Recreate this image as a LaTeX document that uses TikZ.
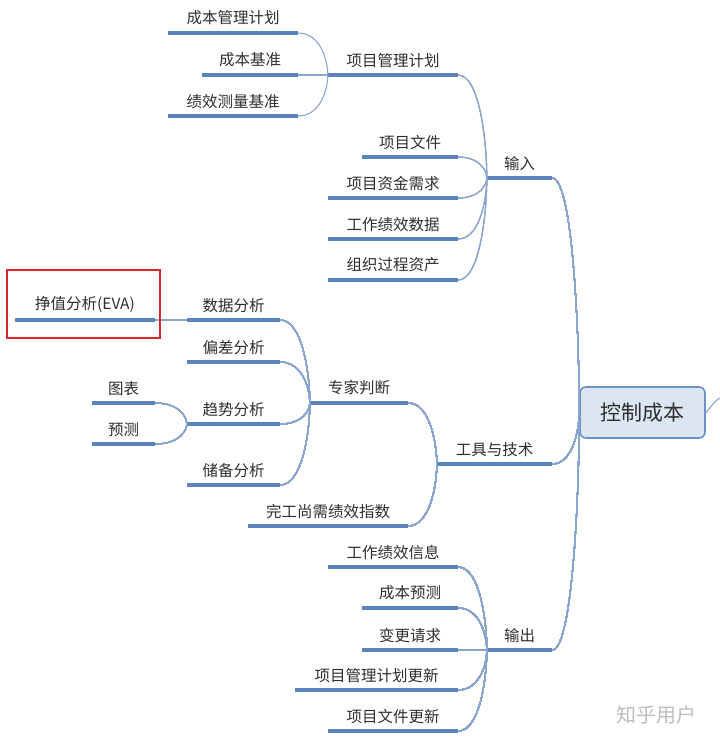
\documentclass[tikz,border=0pt]{standalone}
\usepackage{fontspec}
\setmainfont{Noto Sans CJK SC}
\usepackage{tikz}
\usetikzlibrary{calc}
\definecolor{barblue}{HTML}{5B84BF}
\definecolor{linkblue}{HTML}{8AA6CF}
\definecolor{rootfill}{HTML}{DCE6F2}
\definecolor{rootedge}{HTML}{6C91C8}
\definecolor{textgray}{HTML}{2E2E2E}
\definecolor{markred}{HTML}{D9282D}
\definecolor{markgray}{HTML}{BDBDBD}

% curved twig from a child bar end to its parent fork
\newcommand{\twig}[2]{\draw[link] (#1) .. controls ($(#1)!0.75!(#2 |- #1)$) and ($(#2)!0.35!(#2 |- #1)$) .. (#2);}

\begin{document}
\begin{tikzpicture}[
    x=1pt, y=-1pt,
    topic/.style={anchor=south, minimum width=#1, inner xsep=0pt, inner ysep=7.5pt, font=\fontsize{15.5}{15.5}\selectfont, text=textgray},
    bar/.style={line width=3.6pt, barblue},
    link/.style={line width=1.1pt, linkblue},
    rootbox/.style={draw=rootedge, line width=1.6pt, rounded corners=6pt, fill=rootfill, minimum width=125pt, minimum height=51pt, font=\fontsize{21}{21}\selectfont, text=textgray},
    hilite/.style={draw=markred, line width=1.4pt},
    watermark/.style={font=\fontsize{20}{20}\selectfont, text=markgray},
]
    \useasboundingbox (0,0) rectangle (720,739);

    % Root
    \node[rootbox] (root) at (642.5,412.5) {控制成本};
    \coordinate (offpage) at (722,397);

    % Inputs
    \node[topic=130] (cbgl) at (233,33) {成本管理计划};
    \node[topic=96] (cbjz) at (250,75) {成本基准};
    \node[topic=130] (jxcl) at (233,116) {绩效测量基准};
    \node[topic=130] (plan) at (393,75) {项目管理计划};
    \node[topic=96] (docs) at (410,157) {项目文件};
    \node[topic=130] (fund) at (393,198) {项目资金需求};
    \node[topic=130] (wpd) at (393,239) {工作绩效数据};
    \node[topic=130] (opa) at (393,280) {组织过程资产};
    \node[topic=65] (input) at (519.5,178) {输入};

    % Tools and techniques
    \node[topic=140] (eva) at (85,320) {挣值分析(EVA)};
    \node[topic=63] (chart) at (123.5,403) {图表};
    \node[topic=63] (fcst) at (123.5,444) {预测};
    \node[topic=93] (data) at (233.5,320) {数据分析};
    \node[topic=93] (var) at (233.5,362) {偏差分析};
    \node[topic=93] (trend) at (233.5,424) {趋势分析};
    \node[topic=93] (resv) at (233.5,485) {储备分析};
    \node[topic=98] (expert) at (359,403) {专家判断};
    \node[topic=160] (tcpi) at (328,526) {完工尚需绩效指数};
    \node[topic=115] (tools) at (494.5,464) {工具与技术};

    % Outputs
    \node[topic=130] (wpi) at (393,567) {工作绩效信息};
    \node[topic=96] (cfc) at (410,608) {成本预测};
    \node[topic=96] (cr) at (410,650) {变更请求};
    \node[topic=163] (pmpu) at (376.5,690) {项目管理计划更新};
    \node[topic=130] (pdu) at (393,731) {项目文件更新};
    \node[topic=65] (output) at (519.5,650) {输出};

    % Bars under topics
    \foreach \n in {cbgl,cbjz,jxcl,plan,docs,fund,wpd,opa,input,eva,chart,fcst,data,var,trend,resv,expert,tcpi,tools,wpi,cfc,cr,pmpu,pdu,output}
        \draw[bar] (\n.south west) -- (\n.south east);

    % Twigs
    \foreach \n in {cbgl,cbjz,jxcl} \twig{\n.south east}{plan.south west}
    \foreach \n in {plan,docs,fund,wpd,opa} \twig{\n.south east}{input.south west}
    \foreach \n in {chart,fcst} \twig{\n.south east}{trend.south west}
    \foreach \n in {data,var,trend,resv} \twig{\n.south east}{expert.south west}
    \foreach \n in {expert,tcpi} \twig{\n.south east}{tools.south west}
    \foreach \n in {wpi,cfc,cr,pmpu,pdu} \twig{\n.south east}{output.south west}
    \foreach \n in {input,tools,output} \twig{\n.south east}{root.west}
    \draw[link] (eva.south east) -- (data.south west);
    \draw[link] (root.east) .. controls (712,406) and (716,399) .. (offpage);

    % Highlight and watermark
    \draw[hilite] (7,270) rectangle (160,338);
    \node[watermark] (mark) at (656,715) {知乎用户};
\end{tikzpicture}
\end{document}
